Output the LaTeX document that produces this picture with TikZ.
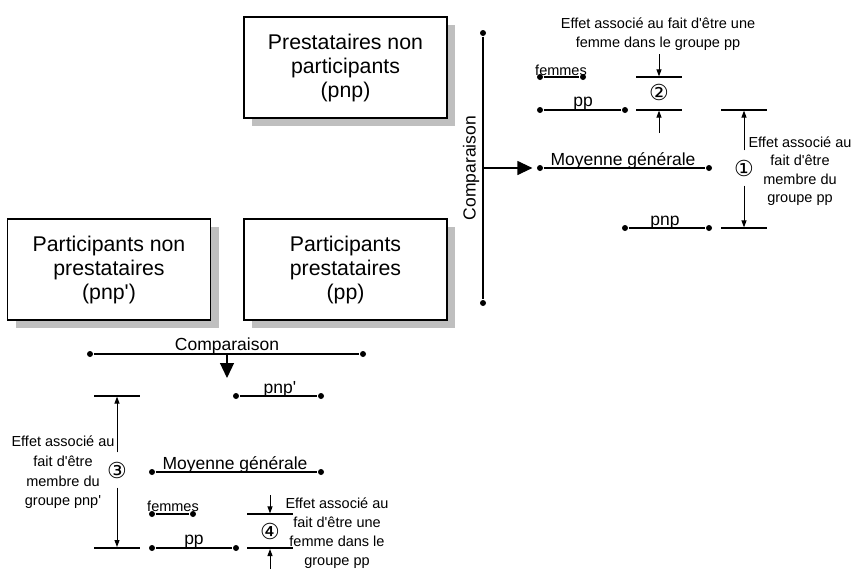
\documentclass[tikz,border=0pt]{standalone}
\usepackage{fontspec}
\setmainfont{Liberation Sans}[Ligatures=TeXOff]
\newfontfamily\symfont{DejaVu Sans}
\usetikzlibrary{arrows.meta,shadows}
\begin{document}
\begin{tikzpicture}[x=1pt,y=-1pt,line width=1.2pt,
  box/.style={draw,fill=white,minimum width=203pt,minimum height=101pt,align=center,
    font=\fontsize{21.3}{24}\selectfont,
    drop shadow={shadow xshift=8pt,shadow yshift=-8pt,fill=black!25,opacity=1}},
  lbl/.style={font=\fontsize{17.5}{20}\selectfont,inner sep=0pt,anchor=base},
  tiny/.style={font=\fontsize{14.5}{17}\selectfont,inner sep=0pt,anchor=base},
  small/.style={font=\fontsize{14.5}{19}\selectfont,align=center,inner sep=0pt},
  num/.style={font=\symfont\fontsize{22}{22}\selectfont,inner sep=0pt,minimum height=34pt},
  dot/.style={circle,fill,inner sep=0pt,minimum size=6pt},
  big/.style={-{Triangle[length=15pt,width=14pt]}},
  sm/.style={line width=1pt,-{Triangle[length=7pt,width=5pt]}},
  thick2/.style={line width=2pt}]
\useasboundingbox (0,0) rectangle (857,568);

% boxes
\node[box] (pnp) at (345.5,67.5) {Prestataires non\\participants\\(pnp)};
\node[box] (pp) at (345.5,269.5) {Participants\\prestataires\\(pp)};
\node[box] (pnpp) at (109,269.5) {Participants non\\prestataires\\(pnp')};

% vertical comparison
\node[dot] (vT) at (483,33) {};
\node[dot] (vB) at (483,303) {};
\draw (vT) -- (vB);
\node[font=\fontsize{17.5}{20}\selectfont,rotate=90,inner sep=0pt] (cmpV) at (471,168) {Comparaison};
\coordinate (vM) at (483,168);

% right cluster lines
\node[dot] (f1a) at (540,77) {};
\node[dot] (f1b) at (583,77) {};
\draw (f1a) -- (f1b);
\node[tiny] (f1t) at (561,75) {femmes};
\node[dot] (p1a) at (540,110) {};
\node[dot] (p1b) at (625,110) {};
\draw (p1a) -- (p1b);
\node[lbl] (p1t) at (583,106) {pp};
\node[dot] (m1a) at (540,168) {};
\node[dot] (m1b) at (709,168) {};
\draw (m1a) -- (m1b);
\node[lbl] (m1t) at (623,165.5) {Moyenne générale};
\node[dot] (n1a) at (625,228) {};
\node[dot] (n1b) at (709,228) {};
\draw (n1a) -- (n1b);
\node[lbl] (n1t) at (665,225) {pnp};
\draw[big,shorten >=4pt] (vM) -- (m1a);

% bracket 2
\coordinate (b2a) at (636,77); \coordinate (b2b) at (682,77);
\coordinate (b2c) at (636,110); \coordinate (b2d) at (682,110);
\draw (b2a) -- (b2b);
\draw (b2c) -- (b2d);
\coordinate (a2s) at (659,54); \coordinate (a2e) at (659,76.4);
\coordinate (a2u) at (659,133); \coordinate (a2v) at (659,110.6);
\draw[sm] (a2s) -- (a2e);
\draw[sm] (a2u) -- (a2v);
\node[num,minimum height=0pt] (n2) at (659,92) {②};
\node[small] (t2) at (658,34) {Effet associé au fait d'être une\\femme dans le groupe pp};

% bracket 1
\coordinate (b1a) at (721,110); \coordinate (b1b) at (767,110);
\coordinate (b1c) at (721,228); \coordinate (b1d) at (767,228);
\draw (b1a) -- (b1b);
\draw (b1c) -- (b1d);
\node[num] (n1) at (744,168) {①};
\coordinate (a1t) at (744,110.6); \coordinate (a1b) at (744,227.4);
\draw[sm] (n1.north) -- (a1t);
\draw[sm] (n1.south) -- (a1b);
\node[small,font=\fontsize{14.5}{18.5}\selectfont] (t1) at (800,171) {Effet associé au\\fait d'être\\membre du\\groupe pp};

% bottom comparison
\node[dot] (hL) at (90,354) {};
\node[dot] (hR) at (363,354) {};
\draw (hL) -- (hR);
\node[lbl] (cmpH) at (227,350.5) {Comparaison};
\coordinate (hM) at (227,354); \coordinate (hT) at (227,378);
\draw[big] (hM) -- (hT);

% bottom lines
\node[dot] (n2a) at (236,396) {};
\node[dot] (n2b) at (321,396) {};
\draw (n2a) -- (n2b);
\node[lbl] (n2t) at (280,393) {pnp'};
\node[dot] (m2a) at (152,472) {};
\node[dot] (m2b) at (321,472) {};
\draw (m2a) -- (m2b);
\node[lbl] (m2t) at (235,469.5) {Moyenne générale};
\node[dot] (f2a) at (152,514) {};
\node[dot] (f2b) at (193,514) {};
\draw (f2a) -- (f2b);
\node[tiny] (f2t) at (173,511.5) {femmes};
\node[dot] (p2a) at (152,548) {};
\node[dot] (p2b) at (236,548) {};
\draw (p2a) -- (p2b);
\node[lbl] (p2t) at (194,544.5) {pp};

% bracket 3
\coordinate (b3a) at (94,396); \coordinate (b3b) at (140,396);
\coordinate (b3c) at (94,548); \coordinate (b3d) at (140,548);
\draw (b3a) -- (b3b);
\draw[thick2] (b3c) -- (b3d);
\node[num] (n3) at (117,470) {③};
\coordinate (a3t) at (117,396.6); \coordinate (a3b) at (117,547);
\draw[sm] (n3.north) -- (a3t);
\draw[sm] (n3.south) -- (a3b);
\node[small,font=\fontsize{14.5}{19.7}\selectfont] (t3) at (63,472.5) {Effet associé au\\fait d'être\\membre du\\groupe pnp'};

% bracket 4
\coordinate (b4a) at (247,514); \coordinate (b4b) at (293,514);
\coordinate (b4c) at (247,548); \coordinate (b4d) at (293,548);
\draw (b4a) -- (b4b);
\draw[thick2] (b4c) -- (b4d);
\coordinate (a4s) at (270,495); \coordinate (a4e) at (270,513.4);
\coordinate (a4u) at (270,569); \coordinate (a4v) at (270,549);
\draw[sm] (a4s) -- (a4e);
\draw[sm] (a4u) -- (a4v);
\node[num,minimum height=0pt] (n4) at (270,531) {④};
\node[small] (t4) at (337,533.5) {Effet associé au\\fait d'être une\\femme dans le\\groupe pp};
\end{tikzpicture}
\end{document}
